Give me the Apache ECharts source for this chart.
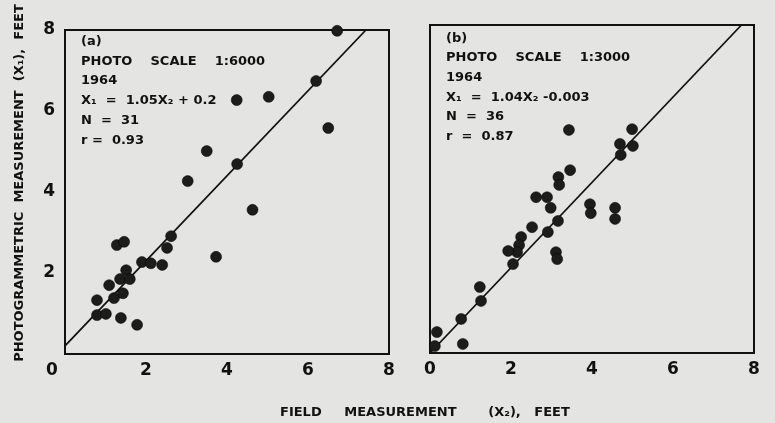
<!DOCTYPE html>
<html>
<head>
<meta charset="utf-8">
<script src="https://cdn.jsdelivr.net/npm/echarts@6/dist/echarts.min.js"></script>
<style>
html,body{margin:0;padding:0;background:#e4e4e2;}
#c{width:775px;height:423px;}
</style>
</head>
<body>
<div id="c"></div>
<script>
// Tick labels
var ticks = [0, 2, 4, 6, 8];

// Panel (a): photo scale 1:6000, field (x2) vs photogrammetric (x1)
var pointsA = [
  [6.72, 7.98], [6.20, 6.74], [4.24, 6.27], [5.03, 6.35], [6.50, 5.58],
  [3.50, 5.01], [4.25, 4.69], [3.03, 4.27], [4.63, 3.56], [3.73, 2.40],
  [2.62, 2.91], [2.52, 2.62], [1.28, 2.69], [1.46, 2.77], [1.90, 2.27],
  [2.12, 2.24], [2.40, 2.20], [1.51, 2.07], [1.36, 1.85], [1.60, 1.85],
  [1.09, 1.70], [1.21, 1.38], [1.43, 1.50], [0.79, 1.33], [0.79, 0.96],
  [1.01, 0.99], [1.38, 0.89], [1.78, 0.72]
];
// Regression line endpoints: X1 = 1.05 X2 + 0.2
var lineA = [[0, 0.2], [7.43, 8]];

// Panel (b): photo scale 1:3000
var pointsB = [
  [3.43, 5.44], [4.99, 5.46], [4.69, 5.10], [5.01, 5.05], [4.71, 4.83],
  [3.46, 4.46], [3.17, 4.29], [3.19, 4.10], [2.62, 3.80], [2.89, 3.80],
  [2.98, 3.54], [3.95, 3.63], [3.97, 3.41], [4.57, 3.54], [4.57, 3.27],
  [3.16, 3.22], [2.52, 3.07], [2.91, 2.95], [2.25, 2.83], [2.20, 2.63],
  [2.15, 2.46], [1.93, 2.49], [2.05, 2.17], [3.11, 2.46], [3.14, 2.29],
  [1.23, 1.61], [1.26, 1.27], [0.77, 0.83], [0.17, 0.51], [0.12, 0.17],
  [0.81, 0.22]
];
// Regression line endpoints: X1 = 1.04 X2 - 0.003
var lineB = [[0, 0], [7.69, 8]];

var textA = ['(a)', 'PHOTO    SCALE    1:6000', '1964', 'X\u2081  =  1.05X\u2082 + 0.2', 'N  =  31', 'r =  0.93'];
var textB = ['(b)', 'PHOTO    SCALE    1:3000', '1964', 'X\u2081  =  1.04X\u2082 -0.003', 'N  =  36', 'r  =  0.87'];

var yTitle = 'PHOTOGRAMMETRIC  MEASUREMENT  (X\u2081),  FEET';
var xTitle = 'FIELD     MEASUREMENT       (X\u2082),   FEET';

var FONT = 'DejaVu Sans';
var ink = '#111';

function xAxis(gi, shiftZero) {
  return {
    type: 'value', gridIndex: gi, min: 0, max: 8, interval: 2,
    axisLine: {show: true, lineStyle: {color: ink, width: 2}},
    axisTick: {show: false}, splitLine: {show: false},
    axisLabel: {
      margin: 8, color: ink, fontFamily: FONT, fontWeight: 'bold', fontSize: 17,
      formatter: function (v) { return (shiftZero && v === 0) ? '{z|0}' : String(v); },
      rich: {z: {padding: [0, 26, 0, 0], color: ink, fontFamily: FONT, fontWeight: 'bold', fontSize: 17}}
    }
  };
}
function yAxis(gi, showLabels) {
  return {
    type: 'value', gridIndex: gi, min: 0, max: 8, interval: 2,
    axisLine: {show: true, lineStyle: {color: ink, width: 2}},
    axisTick: {show: false}, splitLine: {show: false},
    axisLabel: {
      show: showLabels, margin: 10, color: ink, fontFamily: FONT, fontWeight: 'bold', fontSize: 17,
      formatter: function (v) { return v === 0 ? '' : String(v); }
    }
  };
}

function textGraphics(lines, x, y0, step) {
  return lines.map(function (t, i) {
    return {
      type: 'text', left: x, top: y0 + i * step,
      style: {text: t, fill: ink, font: 'bold 13px "DejaVu Sans"'}
    };
  });
}

var chart = echarts.init(document.getElementById('c'), null, {renderer: 'canvas'});
chart.setOption({
  backgroundColor: '#e4e4e2',
  animation: false,
  title: {
    text: xTitle,
    left: 275, top: 401,
    textStyle: {color: ink, fontFamily: FONT, fontWeight: 'bold', fontSize: 13}
  },
  grid: [
    {left: 65, top: 30, width: 324, height: 324, show: true, borderColor: ink, borderWidth: 2, backgroundColor: 'transparent'},
    {left: 430, top: 25, width: 324, height: 328, show: true, borderColor: ink, borderWidth: 2, backgroundColor: 'transparent'}
  ],
  xAxis: [xAxis(0, true), xAxis(1, false)],
  yAxis: [yAxis(0, true), yAxis(1, false)],
  graphic: textGraphics(textA, 81, 35, 19.8).concat(textGraphics(textB, 446, 32, 19.6)).concat([
    {
      type: 'text', x: 20, y: 183, rotation: Math.PI / 2,
      style: {text: yTitle, fill: ink, font: 'bold 13px "DejaVu Sans"', align: 'center', verticalAlign: 'middle'}
    }
  ]),
  series: [
    {type: 'line', xAxisIndex: 0, yAxisIndex: 0, data: lineA, symbol: 'none',
     lineStyle: {color: ink, width: 1.8}, z: 2},
    {type: 'scatter', xAxisIndex: 0, yAxisIndex: 0, data: pointsA, symbolSize: 11,
     itemStyle: {color: '#1c1c1c', opacity: 1, borderColor: '#000', borderWidth: 0.5}, z: 3},
    {type: 'line', xAxisIndex: 1, yAxisIndex: 1, data: lineB, symbol: 'none',
     lineStyle: {color: ink, width: 1.8}, z: 2},
    {type: 'scatter', xAxisIndex: 1, yAxisIndex: 1, data: pointsB, symbolSize: 11,
     itemStyle: {color: '#1c1c1c', opacity: 1, borderColor: '#000', borderWidth: 0.5}, z: 3}
  ]
});
</script>
</body>
</html>
